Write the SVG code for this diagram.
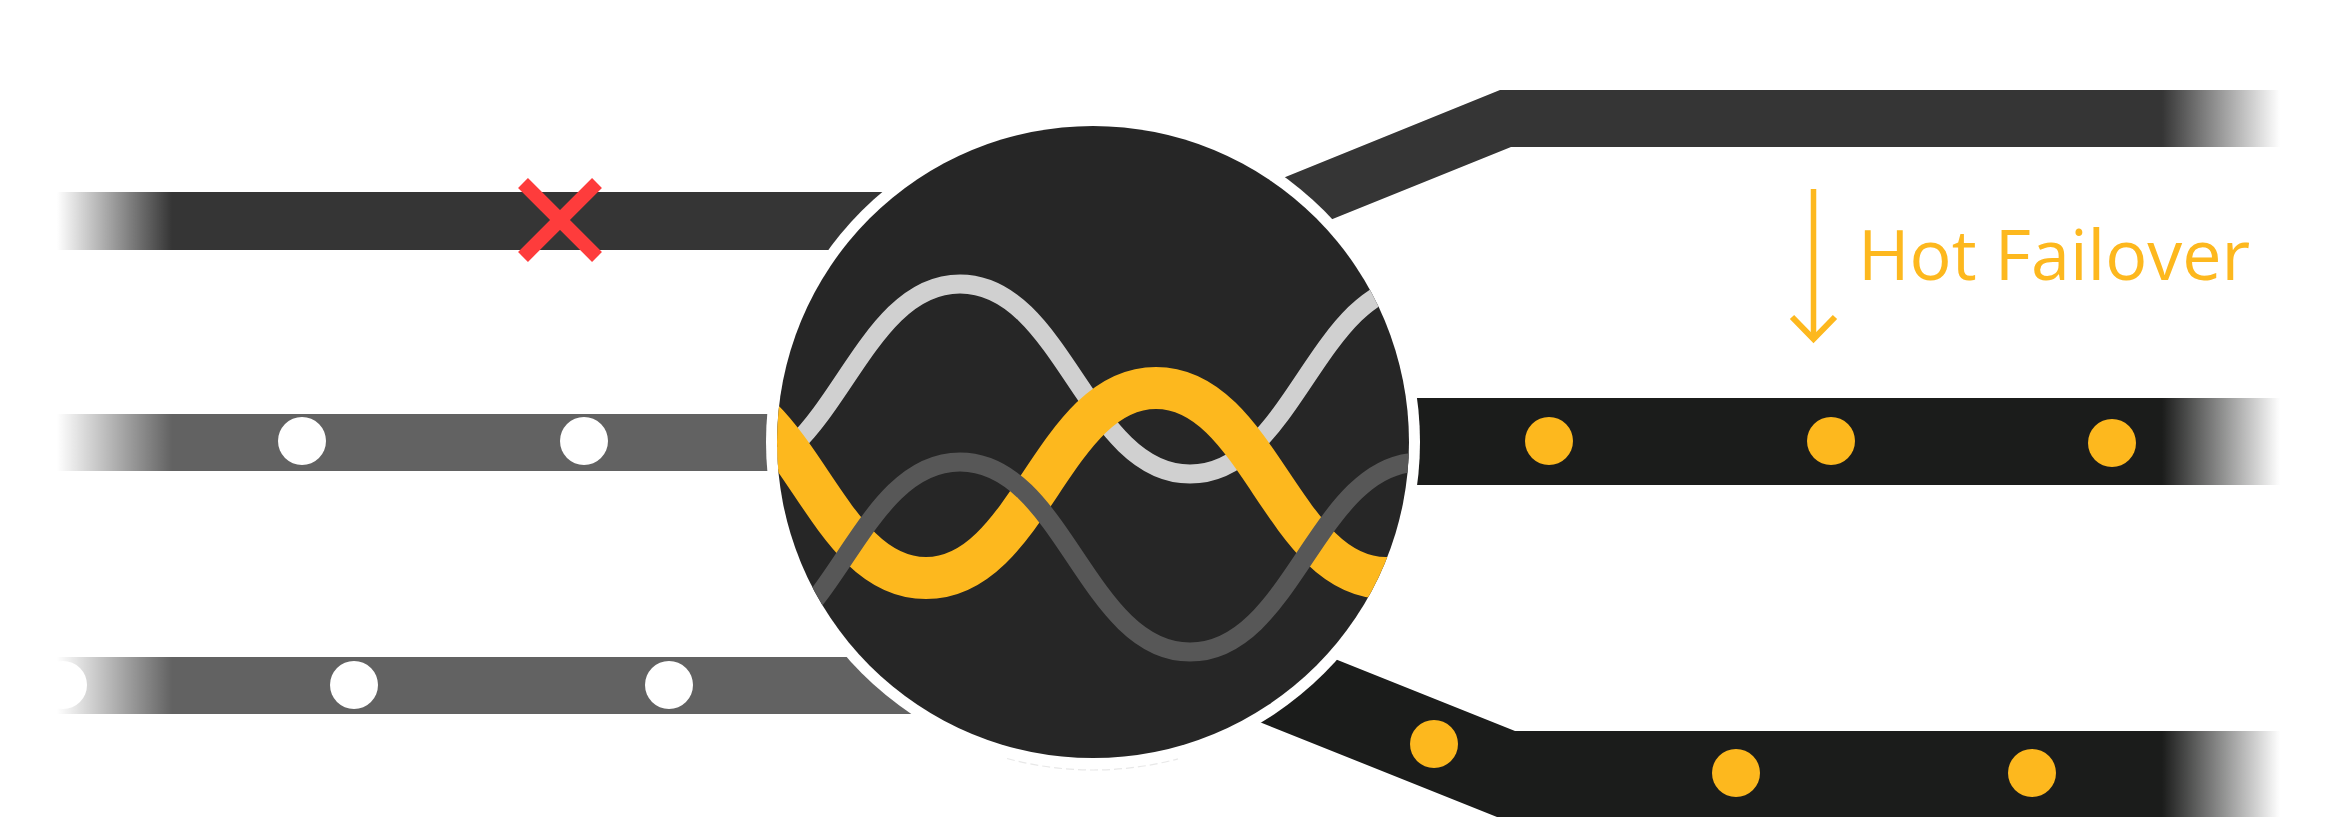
<svg xmlns="http://www.w3.org/2000/svg" width="2334" height="829" viewBox="0 0 2334 829">
  <style>
    .bar-dark { fill: #353535; }
    .bar-mid { fill: #626262; }
    .bar-black { fill: #1b1c1b; }
    .dot-white { fill: #ffffff; }
    .dot-yellow { fill: #fdb81e; }
    .wave { fill: none; stroke-linecap: butt; }
    .label { font-family: "Open Sans", "DejaVu Sans", "Liberation Sans", sans-serif; font-weight: 400; font-size: 70px; fill: #fdb81e; }
  </style>
  <defs>
    <linearGradient id="fadeGrad" gradientUnits="userSpaceOnUse" x1="0" y1="0" x2="2334" y2="0">
      <stop offset="0.0244" stop-color="#000"/>
      <stop offset="0.0737" stop-color="#fff"/>
      <stop offset="0.9263" stop-color="#fff"/>
      <stop offset="0.9769" stop-color="#000"/>
    </linearGradient>
    <mask id="fadeMask" maskUnits="userSpaceOnUse" x="0" y="0" width="2334" height="829">
      <rect x="0" y="0" width="2334" height="829" fill="url(#fadeGrad)"/>
    </mask>
    <clipPath id="hubClip">
      <circle cx="1093" cy="442" r="316"/>
    </clipPath>
  </defs>

  <rect x="0" y="0" width="2334" height="829" fill="#ffffff"/>

  <g id="connectors" mask="url(#fadeMask)">
    <g id="link-left-top">
      <rect class="bar-dark" x="0" y="192" width="1000" height="58"/>
    </g>
    <g id="link-left-middle">
      <rect class="bar-mid" x="0" y="414" width="1000" height="57"/>
      <circle class="dot-white" cx="302" cy="441" r="24"/>
      <circle class="dot-white" cx="584" cy="441" r="24"/>
    </g>
    <g id="link-left-bottom">
      <rect class="bar-mid" x="0" y="657" width="1100" height="57"/>
      <circle class="dot-white" cx="63" cy="685" r="24"/>
      <circle class="dot-white" cx="354" cy="685" r="24"/>
      <circle class="dot-white" cx="669" cy="685" r="24"/>
    </g>
    <g id="link-right-top">
      <polygon class="bar-dark" points="1150,231.8 1500,90 2334,90 2334,147 1511,147 1150,292.8"/>
    </g>
    <g id="link-right-middle">
      <rect class="bar-black" x="1300" y="398" width="1034" height="87"/>
      <circle class="dot-yellow" cx="1549" cy="441" r="24"/>
      <circle class="dot-yellow" cx="1831" cy="441" r="24"/>
      <circle class="dot-yellow" cx="2112" cy="443" r="24"/>
    </g>
    <g id="link-right-bottom">
      <polygon class="bar-black" points="1150,585 1515,731 2334,731 2334,817 1497,817 1150,678.2"/>
      <circle class="dot-yellow" cx="1434" cy="744" r="24"/>
      <circle class="dot-yellow" cx="1736" cy="773" r="24"/>
      <circle class="dot-yellow" cx="2032" cy="773" r="24"/>
    </g>
  </g>

  <g id="failure-mark">
    <path d="M523,183 L597,257 M597,183 L523,257" stroke="#fe3c3c" stroke-width="14" fill="none"/>
  </g>

  <g id="hub">
    <circle cx="1093" cy="442" r="327" fill="#ffffff"/>
    <path d="M1007,758.5 A328,328 0 0 0 1178,758.8" fill="none" stroke="#d8d8d8" stroke-width="1.2" stroke-dasharray="8 4" opacity="0.6"/>
    <circle cx="1093" cy="442" r="316" fill="#262626"/>
    <g clip-path="url(#hubClip)">
      <path class="wave" stroke="#d0d0d0" stroke-width="19" d="M500,284 C603,284 627,474 730,474 S857,284 960,284 S1087,474 1190,474 S1317,284 1420,284 S1547,474 1650,474"/>
      <path class="wave" stroke="#fdb81e" stroke-width="42" d="M466,578 C569,578 593,388 696,388 S823,578 926,578 S1053,388 1156,388 S1283,578 1386,578 S1513,388 1616,388"/>
      <path class="wave" stroke="#575757" stroke-width="19" d="M500,462 C603,462 627,652 730,652 S857,462 960,462 S1087,652 1190,652 S1317,462 1420,462 S1547,652 1650,652"/>
    </g>
  </g>

  <g id="failover-label">
    <path d="M1813.5,189 L1813.5,340" stroke="#fdb81e" stroke-width="5.5" fill="none"/>
    <path d="M1792,317 L1813.5,339 L1835,317" stroke="#fdb81e" stroke-width="6" fill="none"/>
    <text class="label" x="1858" y="280">Hot Failover</text>
  </g>
</svg>
